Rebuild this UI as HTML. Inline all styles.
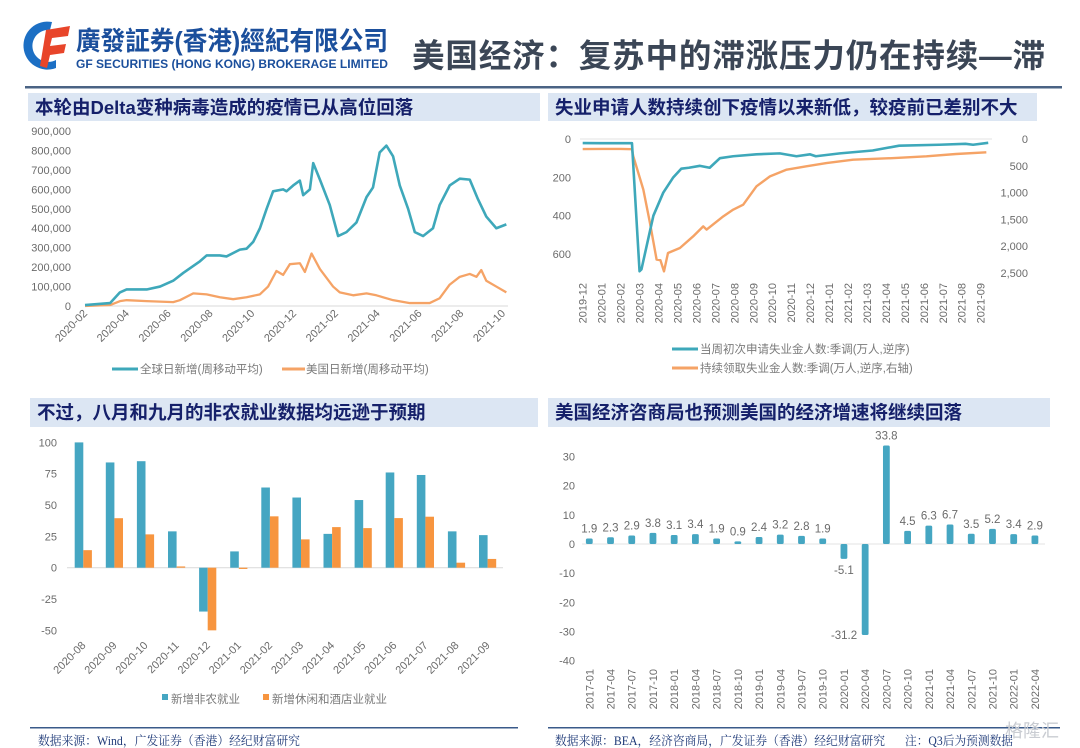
<!DOCTYPE html>
<html><head><meta charset="utf-8">
<style>
html,body{margin:0;padding:0;background:#fff;}
svg{display:block;}
text{font-family:"Liberation Sans","Noto Sans CJK SC",sans-serif;}
.ax{font-size:11px;fill:#6b6b6b;}
.ttl{font-size:18.5px;font-weight:bold;fill:#15206a;}
.src{font-family:"Liberation Serif","Noto Serif CJK SC",serif;font-size:12.5px;fill:#1f3a78;}
.leg{font-size:11.5px;fill:#7a7a7a;}
</style></head>
<body>
<svg id="page" width="1080" height="748" viewBox="0 0 1080 748" xmlns="http://www.w3.org/2000/svg">
  <g>
    <path d="M52 22 A24 24 0 1 0 56 68 L56 60 A16 16 0 1 1 50 30 Z" fill="#1c6fc4"/>
    <path d="M46 30 L70 26 L68 36 L52 38 L50 46 L66 44 L64 53 L50 55 L47 68 L40 66 Z" fill="#e8452a"/>
    <text x="76" y="50" style="font-size:26px;font-weight:bold;fill:#1b4f9c" textLength="312" lengthAdjust="spacingAndGlyphs">廣發証券(香港)經紀有限公司</text>
    <text x="76" y="68" style="font-size:11.6px;font-weight:bold;fill:#1b4f9c" textLength="312" lengthAdjust="spacingAndGlyphs">GF SECURITIES (HONG KONG) BROKERAGE LIMITED</text>
  </g>
  <text x="412" y="67" style="font-size:32.5px;font-weight:bold;fill:#3b4656" textLength="633">美国经济：复苏中的滞涨压力仍在持续—滞</text>
  <rect x="25" y="86" width="1037" height="2.5" fill="#4a6384"/>

  <rect x="28" y="93" width="512" height="28" fill="#dce6f3"/>
  <text x="35" y="114" class="ttl">本轮由Delta变种病毒造成的疫情已从高位回落</text>
  <rect x="548" y="93" width="489" height="28" fill="#dce6f3"/>
  <text x="555" y="114" class="ttl">失业申请人数持续创下疫情以来新低，较疫前已差别不大</text>
  <rect x="30" y="398" width="508" height="29" fill="#dce6f3"/>
  <text x="37" y="419" class="ttl">不过，八月和九月的非农就业数据均远逊于预期</text>
  <rect x="548" y="398" width="502" height="29" fill="#dce6f3"/>
  <text x="555" y="419" class="ttl">美国经济咨商局也预测美国的经济增速将继续回落</text>

  <rect x="30" y="727" width="488" height="1.5" fill="#3a5a8a"/>
  <text x="38" y="745" class="src" textLength="262" lengthAdjust="spacingAndGlyphs">数据来源：Wind，广发证券（香港）经纪财富研究</text>
  <rect x="548" y="727" width="512" height="1.5" fill="#3a5a8a"/>
  <text x="555" y="745" class="src" textLength="330" lengthAdjust="spacingAndGlyphs">数据来源：BEA，经济咨商局，广发证券（香港）经纪财富研究</text>
  <text x="905" y="745" class="src" textLength="108" lengthAdjust="spacingAndGlyphs">注：Q3后为预测数据</text>
  <text x="1005" y="737" style="font-size:18px;fill:#c9ccd2">格隆汇</text>

  <g id="c1"></g>
  <g id="c2"></g>
  <g id="c3"></g>
  <g id="c4"></g>
</svg>
<script>
// ---- Chart 1 data ----
const c1XLabels = ["2020-02","2020-04","2020-06","2020-08","2020-10","2020-12","2021-02","2021-04","2021-06","2021-08","2021-10"];
const c1YTicks = [0,100000,200000,300000,400000,500000,600000,700000,800000,900000];
const c1GlobalMonths = [0,1.2,1.67,1.99,2.95,3.59,4.22,4.7,5.5,5.82,6.45,6.77,7.41,7.73,8.05,8.37,8.69,9.0,9.48,9.64,9.96,10.28,10.44,10.76,10.92,11.24,11.71,12.11,12.51,12.99,13.47,13.78,14.1,14.42,14.74,15.06,15.46,15.78,16.18,16.65,16.97,17.45,17.93,18.41,18.8,19.2,19.68,20.16];
const c1GlobalValues = [5000,15000,70000,85000,85000,100000,130000,170000,230000,260000,260000,255000,290000,295000,330000,400000,500000,590000,600000,590000,620000,645000,570000,600000,735000,650000,520000,360000,380000,430000,560000,610000,790000,825000,770000,620000,500000,380000,360000,400000,520000,620000,655000,650000,550000,460000,400000,420000];
const c1USMonths = [0,1.2,1.67,1.99,2.95,4.22,4.54,5.18,5.82,6.45,7.09,7.73,8.37,8.76,9.16,9.48,9.8,10.28,10.52,10.84,11.24,11.87,12.19,12.83,13.47,13.94,14.74,15.54,16.49,16.97,17.45,17.93,18.41,18.73,18.96,19.2,19.68,20.16];
const c1USValues = [0,5000,25000,30000,25000,20000,30000,65000,60000,45000,35000,45000,60000,100000,180000,160000,215000,220000,175000,270000,190000,100000,70000,55000,65000,55000,30000,15000,15000,40000,110000,150000,165000,150000,185000,130000,100000,70000];
// ---- Chart 2 data ----
const c2XLabels = ["2019-12","2020-01","2020-02","2020-03","2020-04","2020-05","2020-06","2020-07","2020-08","2020-09","2020-10","2020-11","2020-12","2021-01","2021-02","2021-03","2021-04","2021-05","2021-06","2021-07","2021-08","2021-09"];
const c2LeftTicks = [0,200,400,600];
const c2RightTicks = [0,500,1000,1500,2000,2500];
const c2InitMonths = [0,1,2,2.6,3.0,3.1,3.73,4.25,4.78,5.2,5.6,6.19,6.7,7.24,7.94,9.17,10.4,11.28,12,12.3,13.57,15.3,16.7,18.8,20.2,20.6,21.4];
const c2InitValues = [21,22,22,22,690,680,400,280,200,155,150,140,150,100,90,80,75,90,80,90,75,60,35,30,25,30,20];
const c2ContMonths = [0,1,2,2.6,2.67,3.2,3.55,3.9,4.1,4.29,4.5,5.13,5.83,6.36,6.54,7.42,7.94,8.47,9.17,9.88,10.76,11.8,12.86,14.27,16.55,18.14,19.7,21.3];
const c2ContValues = [187,185,185,190,323,945,1567,2250,2260,2470,2127,2033,1816,1630,1690,1443,1318,1225,883,697,572,510,448,386,354,323,280,249];
// ---- Chart 3 data ----
const c3Categories = ["2020-08","2020-09","2020-10","2020-11","2020-12","2021-01","2021-02","2021-03","2021-04","2021-05","2021-06","2021-07","2021-08","2021-09"];
const c3Nonfarm = [100,84,85,29,-35,13,64,56,27,54,76,74,29,26];
const c3Leisure = [14,39.5,26.6,1,-50,-1,41,22.6,32.4,31.6,39.6,40.7,4,7];
const c3YTicks = [-50,-25,0,25,50,75,100];
// ---- Chart 4 data ----
const c4Categories = ["2017-01","2017-04","2017-07","2017-10","2018-01","2018-04","2018-07","2018-10","2019-01","2019-04","2019-07","2019-10","2020-01","2020-04","2020-07","2020-10","2021-01","2021-04","2021-07","2021-10","2022-01","2022-04"];
const c4Values = [1.9,2.3,2.9,3.8,3.1,3.4,1.9,0.9,2.4,3.2,2.8,1.9,-5.1,-31.2,33.8,4.5,6.3,6.7,3.5,5.2,3.4,2.9];
const c4YTicks = [-40,-30,-20,-10,0,10,20,30];

const NS = "http://www.w3.org/2000/svg";
function mk(parent, tag, attrs, txt){
  const e = document.createElementNS(NS, tag);
  for (const k in attrs) e.setAttribute(k, attrs[k]);
  if (txt !== undefined) e.textContent = txt;
  parent.appendChild(e);
  return e;
}
const fmt = v => v.toLocaleString('en-US');
const TEAL = "#3ea8ba", ORANGE = "#f5a366", BTEAL = "#45a6c2", BORANGE = "#f7953f";

// ===== Chart 1 =====
(function(){
  const g = document.getElementById('c1');
  const x = m => 85 + m * 20.9;
  const y = v => 306 - v / 100000 * 19.44;
  const axis = mk(g, 'line', {x1:85, x2:508, y1:y(0), y2:y(0), stroke:'#d9d9d9', 'stroke-width':1});
  
  
  c1YTicks.forEach(v => {
    const t = mk(g, 'text', {x:71, y:y(v)+4, 'text-anchor':'end', class:'ax'}, fmt(v));
    
    
  });
  c1XLabels.forEach((l, i) => {
    const px = x(i*2), py = 314;
    const t = mk(g, 'text', {x:px+3, y:py, 'text-anchor':'end', class:'ax', transform:`rotate(-45 ${px+3} ${py})`}, l);
    
    
  });
  const pUS = mk(g, 'polyline', {points:c1USMonths.map((m,i)=>x(m)+','+y(c1USValues[i])).join(' '), fill:'none', stroke:ORANGE, 'stroke-width':2.3, 'stroke-linejoin':'round'});
  
  
  const pG = mk(g, 'polyline', {points:c1GlobalMonths.map((m,i)=>x(m)+','+y(c1GlobalValues[i])).join(' '), fill:'none', stroke:TEAL, 'stroke-width':2.6, 'stroke-linejoin':'round'});
  
  
  const l1 = mk(g, 'line', {x1:112, x2:138, y1:369, y2:369, stroke:TEAL, 'stroke-width':3});
  
  
  const t1 = mk(g, 'text', {x:140, y:373, class:'leg'}, '全球日新增(周移动平均)');
  
  
  const l2 = mk(g, 'line', {x1:282, x2:305, y1:369, y2:369, stroke:ORANGE, 'stroke-width':3});
  
  
  const t2 = mk(g, 'text', {x:306, y:373, class:'leg'}, '美国日新增(周移动平均)');
  
  
})();

// ===== Chart 2 =====
(function(){
  const g = document.getElementById('c2');
  const x = m => 582.7 + m * 18.95;
  const yl = v => 139 + v * 0.1917;
  const yr = v => 139 + v * 0.0536;
  const axis = mk(g, 'line', {x1:580, x2:992, y1:139, y2:139, stroke:'#e3e3e3', 'stroke-width':1});
  
  
  c2LeftTicks.forEach(v => {
    const t = mk(g, 'text', {x:571, y:yl(v)+4, 'text-anchor':'end', class:'ax'}, fmt(v));
    
    
  });
  c2RightTicks.forEach(v => {
    const t = mk(g, 'text', {x:1028, y:yr(v)+4, 'text-anchor':'end', class:'ax'}, fmt(v));
    
    
  });
  c2XLabels.forEach((l, i) => {
    const px = x(i)+4, py = 283;
    const t = mk(g, 'text', {x:px, y:py, 'text-anchor':'end', class:'ax', transform:`rotate(-90 ${px} ${py})`}, l);
    
    
  });
  const pC = mk(g, 'polyline', {points:c2ContMonths.map((m,i)=>x(m)+','+yr(c2ContValues[i])).join(' '), fill:'none', stroke:ORANGE, 'stroke-width':2.4, 'stroke-linejoin':'round'});
  
  
  const pI = mk(g, 'polyline', {points:c2InitMonths.map((m,i)=>x(m)+','+yl(c2InitValues[i])).join(' '), fill:'none', stroke:TEAL, 'stroke-width':2.6, 'stroke-linejoin':'round'});
  
  
  const l1 = mk(g, 'line', {x1:672, x2:698, y1:349, y2:349, stroke:TEAL, 'stroke-width':3});
  
  
  const t1 = mk(g, 'text', {x:700, y:353, class:'leg'}, '当周初次申请失业金人数:季调(万人,逆序)');
  
  
  const l2 = mk(g, 'line', {x1:672, x2:698, y1:368, y2:368, stroke:ORANGE, 'stroke-width':3});
  
  
  const t2 = mk(g, 'text', {x:700, y:372, class:'leg'}, '持续领取失业金人数:季调(万人,逆序,右轴)');
  
  
})();

// ===== Chart 3 =====
(function(){
  const g = document.getElementById('c3');
  const cx = i => 83.3 + i * 31.1;
  const y = v => 567.7 - v * 1.253;
  const bw = 8.6;
  const axis = mk(g, 'line', {x1:67, x2:503, y1:y(0), y2:y(0), stroke:'#d9d9d9', 'stroke-width':1});
  
  
  c3YTicks.forEach(v => {
    const t = mk(g, 'text', {x:57, y:y(v)+4, 'text-anchor':'end', class:'ax'}, String(v));
    
    
  });
  c3Categories.forEach((c, i) => {
    const a = c3Nonfarm[i], b = c3Leisure[i];
    const r1 = mk(g, 'rect', {x:cx(i)-bw, y:Math.min(y(a),y(0)), width:bw, height:Math.abs(y(a)-y(0)), fill:BTEAL});
    
    
    const r2 = mk(g, 'rect', {x:cx(i), y:Math.min(y(b),y(0)), width:bw, height:Math.max(Math.abs(y(b)-y(0)),0.8), fill:BORANGE});
    
    
    const px = cx(i)+3, py = 646;
    const t = mk(g, 'text', {x:px, y:py, 'text-anchor':'end', class:'ax', transform:`rotate(-45 ${px} ${py})`}, c);
    
    
  });
  const s1 = mk(g, 'rect', {x:162, y:694, width:6, height:6, fill:BTEAL});
  
  
  const t1 = mk(g, 'text', {x:171, y:703, class:'leg'}, '新增非农就业');
  
  
  const s2 = mk(g, 'rect', {x:263, y:694, width:6, height:6, fill:BORANGE});
  
  
  const t2 = mk(g, 'text', {x:272, y:703, class:'leg'}, '新增休闲和酒店业就业');
  
  
})();

// ===== Chart 4 =====
(function(){
  const g = document.getElementById('c4');
  const cx = i => 589.3 + i * 21.22;
  const y = v => 544 - v * 2.915;
  const bw = 6.8;
  c4YTicks.forEach(v => {
    const t = mk(g, 'text', {x:575, y:y(v)+4, 'text-anchor':'end', class:'ax'}, String(v));
    
    
  });
  const axis = mk(g, 'line', {x1:582, x2:1045, y1:y(0), y2:y(0), stroke:'#e3e3e3', 'stroke-width':1});
  
  
  c4Categories.forEach((c, i) => {
    const v = c4Values[i];
    const r = mk(g, 'rect', {x:cx(i)-bw/2, y:Math.min(y(v),y(0)), width:bw, height:Math.abs(y(v)-y(0)), rx:1.5, fill:BTEAL});
    
    
    const lx = v < -10 ? cx(i)-8 : cx(i);
    const ly = v < -10 ? y(v)+4 : (v < 0 ? y(v)+15 : y(v)-6);
    const t = mk(g, 'text', {x:lx, y:ly, 'text-anchor': v < -10 ? 'end' : 'middle', class:'ax', style:'font-size:11.5px;fill:#6b6b6b'}, String(v));
    
    
    const px = cx(i)+4, py = 669;
    const tx = mk(g, 'text', {x:px, y:py, 'text-anchor':'end', class:'ax', transform:`rotate(-90 ${px} ${py})`}, c);
    
    
  });
})();
</script>
</body></html>
